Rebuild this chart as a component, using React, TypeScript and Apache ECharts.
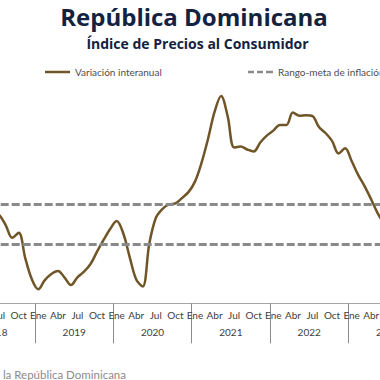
import { useEffect, useRef } from "react";
import * as echarts from "echarts";

const years = ["2018", "2019", "2020", "2021", "2022", "2023"];
const monthNames = ["Ene", "Feb", "Mar", "Abr", "May", "Jun", "Jul", "Ago", "Sep", "Oct", "Nov", "Dic"];

const inflation2018 = [null, null, null, null, null, 4.6, 4.45, 3.94, 3.3, 3.55, 2.28, 1.22];
const inflation2019 = [0.71, 1.17, 1.48, 1.63, 1.31, 0.92, 1.31, 1.59, 1.98, 2.6, 3.19, 3.74];
const inflation2020 = [4.15, 3.54, 2.33, 1.2, 0.85, 3.0, 4.3, 4.75, 4.98, 5.03, 5.3, 5.6];
const inflation2021 = [6.13, 7.07, 8.28, 9.64, 10.44, 9.44, 7.85, 7.9, 7.75, 7.65, 8.1, 8.45];
const inflation2022 = [8.7, 8.98, 8.98, 9.61, 9.45, 9.47, 9.43, 8.88, 8.58, 8.18, 7.55, 7.81];
const inflation2023 = [7.17, 6.47, 5.89, 5.23, 4.53, 4.0, null, null, null, null, null, null];

const targetLow = 3;
const targetHigh = 5;

const categories = years.flatMap((y) => monthNames.map((m) => `${m} ${y}`));
const inflation = [
  ...inflation2018,
  ...inflation2019,
  ...inflation2020,
  ...inflation2021,
  ...inflation2022,
  ...inflation2023,
];

const FONT = "Lato";
const TITLE_FONT = "'Open Sans'";
const OFFSET = 60; // chart is wider than the window; shifted left

const solidIcon = "path://M0,0h25v2.5h-25z";
const dashedIcon = "path://M0,0h6v2.5h-6z M9,0h6v2.5h-6z M18,0h7v2.5h-7z";

export default function App() {
  const ref = useRef<HTMLDivElement>(null);
  useEffect(() => {
    if (!ref.current) return;
    const chart = echarts.init(ref.current, null, { renderer: "svg" });
    chart.setOption({
      animation: false,
      textStyle: { fontFamily: FONT },
      grid: { left: 16.7, right: 33.3, top: 65.1, bottom: 76.7 },
      xAxis: [
        {
          type: "category",
          data: categories,
          boundaryGap: true,
          axisLine: { lineStyle: { color: "#a6a6a6", width: 1 } },
          axisTick: {
            show: true,
            interval: (i: number) => i % 12 === 0,
            length: 40,
            lineStyle: { color: "#8c8c8c", width: 1 },
          },
          axisLabel: {
            interval: (i: number) => i % 3 === 0,
            formatter: (v: string) => v.split(" ")[0],
            fontSize: 10,
            color: "#404040",
            margin: 7,
            fontFamily: FONT,
          },
          splitLine: { show: false },
        },
        {
          type: "category",
          data: years,
          position: "bottom",
          offset: 17,
          axisLine: { show: false },
          axisTick: { show: false },
          axisLabel: { fontSize: 10, color: "#404040", margin: 7, fontFamily: FONT },
        },
      ],
      yAxis: { type: "value", min: 0, max: 12, show: false },
      legend: [
        {
          data: [{ name: "Variación interanual", icon: solidIcon }],
          left: 45 + OFFSET,
          top: 67,
          padding: 0,
          itemWidth: 25,
          itemHeight: 12,
          textStyle: { fontSize: 10, color: "#4d4d4d", fontFamily: FONT },
        },
        {
          data: [{ name: "Rango-meta de inflación", icon: dashedIcon }],
          left: 248 + OFFSET,
          top: 67,
          padding: 0,
          itemWidth: 25,
          itemHeight: 12,
          textStyle: { fontSize: 10, color: "#4d4d4d", fontFamily: FONT },
        },
      ],
      series: [
        {
          name: "Variación interanual",
          type: "line",
          data: inflation,
          smooth: 0.35,
          symbol: "none",
          lineStyle: { color: "#6f5527", width: 2.5 },
          itemStyle: { color: "#6f5527" },
          z: 3,
        },
        {
          name: "Rango-meta de inflación",
          type: "line",
          data: [],
          symbol: "none",
          lineStyle: { color: "#8a8a8a", width: 3, type: [8, 3] },
          itemStyle: { color: "#8a8a8a" },
          markLine: {
            silent: true,
            symbol: "none",
            label: { show: false },
            lineStyle: { color: "#8a8a8a", width: 3, type: [8, 3] },
            data: [{ yAxis: targetLow }, { yAxis: targetHigh }],
          },
          z: 2,
        },
      ],
      graphic: [
        {
          type: "text",
          x: 194 + OFFSET,
          y: 16,
          style: {
            text: "República Dominicana",
            textAlign: "center",
            textVerticalAlign: "middle",
            font: `bold 24px ${TITLE_FONT}`,
            fill: "#13233f",
          },
        },
        {
          type: "text",
          x: 197.5 + OFFSET,
          y: 43,
          style: {
            text: "Índice de Precios al Consumidor",
            textAlign: "center",
            textVerticalAlign: "middle",
            font: `bold 14px ${TITLE_FONT}`,
            fill: "#13233f",
          },
        },
        {
          type: "text",
          x: 126 + OFFSET,
          y: 374,
          style: {
            text: "Fuente: Banco Central de la República Dominicana",
            textAlign: "right",
            textVerticalAlign: "middle",
            font: `11.5px ${FONT}`,
            fill: "#8c8c8c",
          },
        },
      ],
    });
    return () => chart.dispose();
  }, []);

  return (
    <div style={{ position: "fixed", left: 0, top: 0, width: 380, height: 380, overflow: "hidden", background: "#fff" }}>
      <div ref={ref} style={{ position: "absolute", left: -OFFSET, top: 0, width: 520, height: 380 }} />
    </div>
  );
}
